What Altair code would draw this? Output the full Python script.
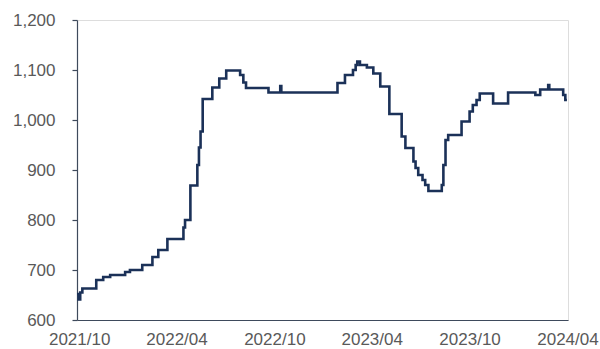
import altair as alt
import pandas as pd

# Change points of the price series (value holds until the next date)
dates = [
    "2021-09-27", "2021-09-30", "2021-10-03", "2021-10-07", "2021-11-02",
    "2021-11-15", "2021-11-28", "2021-12-26", "2022-01-04", "2022-01-27",
    "2022-02-15", "2022-02-26", "2022-03-15", "2022-04-14", "2022-04-17",
    "2022-04-27", "2022-05-10", "2022-05-13", "2022-05-16", "2022-05-20",
    "2022-06-07", "2022-06-20", "2022-07-03", "2022-07-29", "2022-08-04",
    "2022-08-09", "2022-09-20", "2022-10-12", "2022-10-14", "2023-01-27",
    "2023-02-10", "2023-02-25", "2023-03-02", "2023-03-05", "2023-03-10",
    "2023-03-23", "2023-04-04", "2023-04-17", "2023-05-04", "2023-05-27",
    "2023-06-03", "2023-06-18", "2023-06-22", "2023-06-27", "2023-07-05",
    "2023-07-10", "2023-07-16", "2023-08-10", "2023-08-13", "2023-08-17",
    "2023-08-22", "2023-09-16", "2023-10-01", "2023-10-07", "2023-10-14",
    "2023-10-20", "2023-11-14", "2023-12-12", "2024-02-01", "2024-02-10",
    "2024-02-25", "2024-02-27", "2024-03-24", "2024-03-28", "2024-03-31",
]
values = [
    652, 641, 655, 663, 680,
    686, 690, 696, 700, 710,
    726, 740, 762, 785, 800,
    869, 910, 945, 977, 1042,
    1065, 1083, 1099, 1090, 1075,
    1064, 1055, 1068, 1055, 1074,
    1090, 1100, 1110, 1117, 1110,
    1105, 1093, 1067, 1012, 967,
    944, 917, 904, 890, 880,
    870, 858, 870, 910, 960,
    970, 997, 1017, 1030, 1040,
    1053, 1033, 1055, 1050, 1061,
    1070, 1061, 1050, 1040, 1040,
]

tick_dates = [
    alt.DateTime(year=2021, month=10, date=1),
    alt.DateTime(year=2022, month=4, date=1),
    alt.DateTime(year=2022, month=10, date=1),
    alt.DateTime(year=2023, month=4, date=1),
    alt.DateTime(year=2023, month=10, date=1),
    alt.DateTime(year=2024, month=4, date=1),
]
y_ticks = [600, 700, 800, 900, 1000, 1100, 1200]

df = pd.DataFrame({"date": pd.to_datetime(dates), "price": values})

FONT = "Liberation Sans"
FONT_SIZE = 17
AXIS_COLOR = "#3e4a5c"
LABEL_COLOR = "#595959"

chart = (
    alt.Chart(df)
    .mark_line(interpolate="step-after", color="#1b3158", strokeWidth=2.6)
    .encode(
        x=alt.X(
            "date:T",
            scale=alt.Scale(
                domain=[
                    alt.DateTime(year=2021, month=9, date=27),
                    alt.DateTime(year=2024, month=4, date=2),
                ]
            ),
            axis=alt.Axis(
                values=tick_dates,
                format="%Y/%m",
                title=None,
                grid=False,
                ticks=False,
                tickSize=0,
                labelPadding=11,
                labelFlush=False,
                labelOverlap=False,
                labelFont=FONT,
                labelFontSize=FONT_SIZE,
                labelColor=LABEL_COLOR,
                domainColor=AXIS_COLOR,
                domainWidth=1.2,
            ),
        ),
        y=alt.Y(
            "price:Q",
            scale=alt.Scale(domain=[600, 1200], nice=False, zero=False),
            axis=alt.Axis(
                values=y_ticks,
                format=",d",
                title=None,
                grid=False,
                tickSize=5,
                tickColor=AXIS_COLOR,
                tickWidth=1.2,
                labelPadding=17,
                labelFont=FONT,
                labelFontSize=FONT_SIZE,
                labelColor=LABEL_COLOR,
                domainColor=AXIS_COLOR,
                domainWidth=1.2,
            ),
        ),
    )
    .properties(
        width=491,
        height=300,
        autosize=alt.AutoSizeParams(type="none"),
        padding={"left": 77, "top": 20, "right": 32, "bottom": 29},
    )
    .configure_view(stroke=None)
    .configure(background="white")
)

chart.save("out.html", embed_options={"renderer": "svg", "actions": False})
